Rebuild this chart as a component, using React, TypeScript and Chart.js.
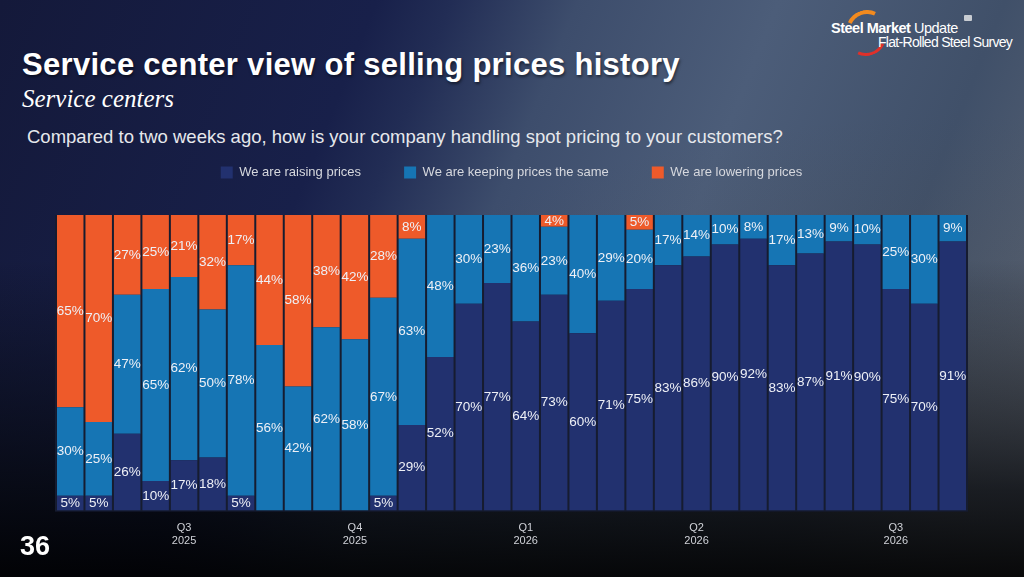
import { useEffect, useRef } from "react"
import { Chart, registerables } from "chart.js"

Chart.register(...registerables)

// Survey waves (one bar each); quarter labels only under some bars
const quarterLabels: (string | string[])[] = [
  "", "", "", "", ["Q3", "2025"], "", "", "", "", "", ["Q4", "2025"], "", "", "", "", "",
  ["Q1", "2026"], "", "", "", "", "", ["Q2", "2026"], "", "", "", "", "", "", ["Q3", "2026"], "", "",
]

const raising = [5, 5, 26, 10, 17, 18, 5, 0, 0, 0, 0, 5, 29, 52, 70, 77, 64, 73, 60, 71, 75, 83, 86, 90, 92, 83, 87, 91, 90, 75, 70, 91]
const keeping = [30, 25, 47, 65, 62, 50, 78, 56, 42, 62, 58, 67, 63, 48, 30, 23, 36, 23, 40, 29, 20, 17, 14, 10, 8, 17, 13, 9, 10, 25, 30, 9]
const lowering = [65, 70, 27, 25, 21, 32, 17, 44, 58, 38, 42, 28, 8, 0, 0, 0, 0, 4, 0, 0, 5, 0, 0, 0, 0, 0, 0, 0, 0, 0, 0, 0]

const seriesNames = ["We are raising prices", "We are keeping prices the same", "We are lowering prices"]
const seriesColors = ["#22316f", "#1675b4", "#ee5a2a"]

const FONT = "'Liberation Sans', Arial, Helvetica, sans-serif"

// dark backdrop behind the bars so gaps read as thin separators
const backdrop = {
  id: "backdrop",
  beforeDatasetsDraw(chart: Chart) {
    const { ctx, chartArea } = chart
    ctx.save()
    ctx.fillStyle = "#161c30"
    ctx.fillRect(chartArea.left - 1, chartArea.top, chartArea.right - chartArea.left + 2, chartArea.bottom - chartArea.top + 1)
    ctx.restore()
  },
}

// percentage labels centred in each segment
const segmentLabels = {
  id: "segmentLabels",
  afterDatasetsDraw(chart: Chart) {
    const { ctx } = chart
    ctx.save()
    ctx.font = `13.5px ${FONT}`
    ctx.fillStyle = "#eef0f6"
    ctx.textAlign = "center"
    ctx.textBaseline = "middle"
    chart.data.datasets.forEach((ds, di) => {
      const meta = chart.getDatasetMeta(di)
      meta.data.forEach((bar: any, i) => {
        const v = ds.data[i] as number
        if (!v) return
        const y = (bar.y + bar.base) / 2
        ctx.fillText(`${v}%`, bar.x, y)
      })
    })
    ctx.restore()
  },
}

// extra space under the legend
const legendGap = {
  id: "legendGap",
  beforeInit(chart: any) {
    const fit = chart.legend.fit
    chart.legend.fit = function () {
      fit.bind(chart.legend)()
      this.height += 26
    }
  },
}

function SurveyChart() {
  const chartRef = useRef<HTMLCanvasElement>(null)
  const chartInstance = useRef<Chart | null>(null)

  useEffect(() => {
    if (!chartRef.current) return
    if (chartInstance.current) chartInstance.current.destroy()
    const ctx = chartRef.current.getContext("2d")
    if (!ctx) return

    const values = [raising, keeping, lowering]

    chartInstance.current = new Chart(ctx, {
      type: "bar",
      data: {
        labels: quarterLabels,
        datasets: values.map((d, i) => ({
          label: seriesNames[i],
          data: d,
          backgroundColor: seriesColors[i],
          borderWidth: 0,
          barPercentage: 0.93,
          categoryPercentage: 1,
        })),
      },
      options: {
        responsive: false,
        animation: false,
        layout: { padding: { left: 56, right: 57, top: 4, bottom: 0 } },
        plugins: {
          tooltip: { enabled: false },
          legend: {
            position: "top",
            labels: {
              color: "#d6d8de",
              font: { family: FONT, size: 13 },
              boxWidth: 12,
              boxHeight: 12,
              padding: 43,
            },
          },
        },
        scales: {
          x: {
            stacked: true,
            grid: { display: false },
            border: { display: false },
            ticks: {
              autoSkip: false,
              maxRotation: 0,
              color: "#d0d2d8",
              font: { family: FONT, size: 11 },
              padding: 3,
            },
          },
          y: {
            stacked: true,
            display: false,
            min: 0,
            max: 100,
          },
        },
      },
      plugins: [backdrop, segmentLabels, legendGap],
    })

    return () => {
      if (chartInstance.current) {
        chartInstance.current.destroy()
        chartInstance.current = null
      }
    }
  }, [])

  return <canvas ref={chartRef} width={1024} height={432} style={{ position: "absolute", left: 0, top: 119, width: 1024, height: 432 }} />
}

export default function App() {
  useEffect(() => {
    document.body.style.margin = "0"
  }, [])

  return (
    <div
      style={{
        position: "relative",
        width: 1024,
        height: 577,
        overflow: "hidden",
        fontFamily: FONT,
        background:
          "linear-gradient(180deg, rgba(0,0,0,0) 0%, rgba(0,0,0,0) 45%, rgba(4,6,10,0.8) 85%, rgba(0,0,0,0.92) 100%)," +
          "radial-gradient(ellipse at 95% 88%, rgba(150,150,150,0.45) 0%, rgba(80,80,80,0.2) 30%, rgba(0,0,0,0) 55%)," +
          "linear-gradient(112deg, #14193a 0%, #18204a 30%, #222d55 36%, #3d4d6c 46%, #4c5d79 62%, #405069 80%, #5f6877 100%)",
      }}
    >
      {/* logo */}
      <div style={{ position: "absolute", left: 846, top: 10, width: 34, height: 34, borderRadius: "50%", border: "4px solid transparent", borderTopColor: "#f28a1e", transform: "rotate(-20deg)" }} />
      <div style={{ position: "absolute", left: 846, top: 16, width: 34, height: 34, borderRadius: "50%", border: "3px solid transparent", borderBottomColor: "#e0302a", transform: "rotate(-20deg)" }} />
      <div style={{ position: "absolute", left: 831, top: 20, color: "#fff", fontSize: 14.5, letterSpacing: -0.5, whiteSpace: "nowrap" }}>
        <b>Steel Market</b> Update
      </div>
      <div style={{ position: "absolute", left: 878, top: 34, color: "#fff", fontSize: 14, letterSpacing: -0.7, whiteSpace: "nowrap", fontWeight: 300 }}>
        Flat-Rolled Steel Survey
      </div>
      <div style={{ position: "absolute", left: 964, top: 15, width: 8, height: 6, background: "#c8ccd2", borderRadius: 1 }} />

      {/* headings */}
      <div style={{ position: "absolute", left: 22, top: 47, color: "#fff", fontSize: 31, fontWeight: 700, letterSpacing: 0.3, whiteSpace: "nowrap", textShadow: "1px 2px 3px rgba(0,0,0,0.5)" }}>
        Service center view of selling prices history
      </div>
      <div style={{ position: "absolute", left: 22, top: 85, color: "#fff", fontSize: 25, fontStyle: "italic", fontFamily: "'Liberation Serif', 'DejaVu Serif', serif", whiteSpace: "nowrap" }}>
        Service centers
      </div>
      <div style={{ position: "absolute", left: 27, top: 126, color: "#e6e8ec", fontSize: 18.5, whiteSpace: "nowrap" }}>
        Compared to two weeks ago, how is your company handling spot pricing to your customers?
      </div>

      <SurveyChart />

      <div style={{ position: "absolute", left: 20, top: 531, color: "#fff", fontSize: 27, fontWeight: 700 }}>36</div>
    </div>
  )
}
